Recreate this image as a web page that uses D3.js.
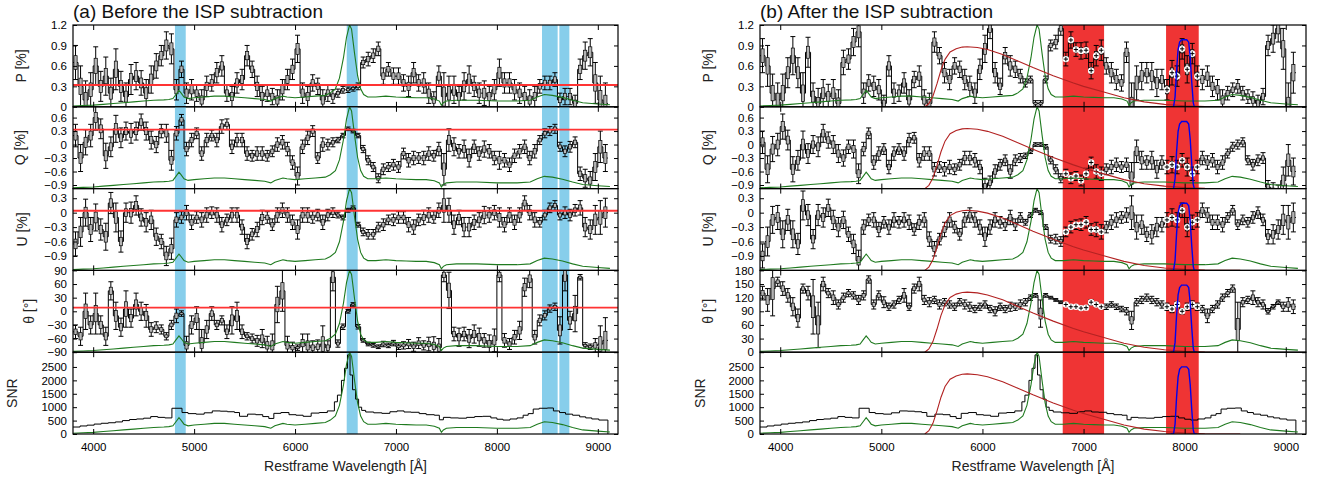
<!DOCTYPE html>
<html>
<head>
<meta charset="utf-8">
<script src="https://cdn.jsdelivr.net/npm/d3@7"></script>
<style>
  body { margin: 0; background: #fff; }
  svg { font-family: "Liberation Sans", Arial, Helvetica, sans-serif; }
</style>
</head>
<body>
<svg id="chart" width="1317" height="477"></svg>
<script>
/* Spectropolarimetry figure: P, Q, U, theta and SNR against restframe
   wavelength, before (a) and after (b) the ISP subtraction. */

// ---- data -------------------------------------------------------------
const binCenters = [
  3825,3875,3925,3975,4025,4075,4125,4175,4225,4275,
  4325,4375,4425,4475,4525,4575,4625,4675,4725,4775,
  4825,4875,4925,4975,5025,5075,5125,5175,5225,5275,
  5325,5375,5425,5475,5525,5575,5625,5675,5725,5775,
  5825,5875,5925,5975,6025,6075,6125,6175,6225,6275,
  6325,6375,6425,6475,6525,6575,6625,6675,6725,6775,
  6825,6875,6925,6975,7025,7075,7125,7175,7225,7275,
  7325,7375,7425,7475,7525,7575,7625,7675,7725,7775,
  7825,7875,7925,7975,8025,8075,8125,8175,8225,8275,
  8325,8375,8425,8475,8525,8575,8625,8675,8725,8775,
  8825,8875,8925,8975,9025,9075];
const binHalfWidth = 25;

// (a) before ISP subtraction
const pBefore = [
  0.65,0.30,0.10,0.25,0.60,0.30,0.45,0.20,0.55,0.30,
  0.15,0.40,0.45,0.35,0.20,0.40,0.60,0.75,0.90,0.85,
  0.25,0.55,0.20,0.25,0.20,0.10,0.30,0.35,0.50,0.60,
  0.20,0.15,0.35,0.40,0.75,0.55,0.30,0.15,0.20,0.15,
  0.10,0.25,0.40,0.55,0.85,0.20,0.15,0.35,0.30,0.10,
  0.20,0.15,0.20,0.25,0.25,0.27,0.30,0.65,0.70,0.75,
  0.85,0.45,0.55,0.45,0.45,0.35,0.30,0.50,0.35,0.35,
  0.20,0.10,0.45,0.15,0.20,0.25,0.15,0.30,0.40,0.30,
  0.20,0.20,0.15,0.25,0.50,0.35,0.35,0.25,0.20,0.15,
  0.10,0.15,0.30,0.35,0.35,0.40,0.10,0.15,0.15,0.05,
  0.55,0.75,0.80,0.35,0.10,0.05];
const qBefore = [
  0.20,-0.30,0.05,0.20,0.60,0.35,-0.25,-0.05,0.35,0.15,
  0.30,0.25,0.30,0.50,0.30,0.10,0.00,0.30,0.25,-0.35,
  0.25,0.55,-0.10,0.10,0.25,-0.20,0.10,0.20,0.10,0.40,
  0.45,-0.05,0.10,0.10,-0.20,-0.25,-0.20,-0.20,-0.25,-0.15,
  0.00,0.05,-0.10,-0.40,-0.70,-0.05,0.15,0.30,-0.30,0.00,
  0.00,0.05,0.10,0.20,0.35,0.30,0.20,-0.10,-0.35,-0.50,
  -0.75,-0.55,-0.50,-0.45,-0.50,-0.20,-0.35,-0.30,-0.30,-0.30,
  -0.20,-0.25,-0.10,-0.55,0.10,-0.05,-0.15,-0.10,-0.30,-0.05,
  -0.20,-0.10,-0.15,-0.30,-0.35,-0.35,-0.45,-0.25,-0.15,-0.05,
  -0.30,-0.15,0.10,0.25,0.30,0.35,-0.05,-0.15,-0.05,0.05,
  -0.65,-0.75,-0.80,-0.50,-0.05,-0.30];
const uBefore = [
  -0.65,-0.40,0.00,-0.35,-0.10,-0.35,-0.50,0.20,-0.10,-0.60,
  0.00,0.00,0.15,-0.10,-0.20,-0.15,-0.50,-0.60,-0.90,-0.75,
  -0.15,-0.10,0.00,-0.20,-0.10,-0.15,-0.05,0.00,-0.05,-0.25,
  -0.15,-0.05,-0.05,-0.30,-0.60,-0.45,-0.35,-0.10,-0.10,-0.25,
  -0.05,0.05,-0.05,-0.20,-0.35,-0.05,-0.05,-0.10,-0.05,-0.20,
  -0.05,0.00,-0.05,-0.10,0.05,0.10,-0.25,-0.40,-0.45,-0.45,
  -0.30,-0.25,-0.15,-0.15,-0.10,-0.10,-0.25,-0.30,-0.15,-0.10,
  -0.05,-0.10,0.05,0.15,0.05,-0.25,-0.10,-0.30,-0.30,-0.20,
  -0.15,-0.05,-0.05,0.00,-0.10,-0.25,-0.05,-0.20,-0.05,0.20,
  0.00,-0.15,-0.20,-0.05,0.10,0.15,-0.05,0.00,-0.05,0.05,
  0.10,-0.30,-0.35,-0.15,-0.10,0.00];
const thetaBefore = [
  -45,-55,0,-30,-5,-30,-55,45,-10,-35,
  5,-15,15,0,-10,-40,-35,-40,-55,-30,
  -10,-5,-75,-30,-15,-70,-40,-5,-30,-20,
  -45,-20,-10,-45,-55,-60,-65,-60,-75,-75,
  15,45,-75,-80,-80,-70,-75,-80,-78,-72,
  -80,75,-71,-34,0,15,-34,-64,-72,-75,
  -78,-72,-75,-70,-78,-75,-72,-78,-70,-75,
  -72,-76,-80,80,46,-50,-57,-50,-60,-50,
  -57,-64,-72,-64,80,-64,-72,-57,-42,53,
  72,-57,-20,-9,6,10,-42,80,-20,-5,
  75,-75,-78,-75,-72,-64];
const thetaErrBefore = [
  15,20,40,20,45,20,20,20,30,20,
  40,20,25,20,25,15,12,10,8,10,
  15,6,20,20,25,30,20,15,10,10,
  15,30,30,15,8,10,12,20,20,25,
  40,45,20,12,6,20,25,15,15,40,
  15,30,8,6,4,4,5,4,4,4,
  4,6,5,6,6,8,10,10,12,10,
  15,20,20,15,40,15,20,15,20,20,
  20,15,20,25,15,15,12,15,20,20,
  20,15,12,10,8,8,30,35,20,40,
  6,6,6,15,40,50];

// 1-sigma error of P, Q and U (%), same before and after the subtraction
const polErr = [
  0.25,0.30,0.28,0.25,0.28,0.22,0.28,0.22,0.30,0.22,
  0.20,0.22,0.20,0.18,0.20,0.20,0.18,0.15,0.20,0.22,
  0.15,0.12,0.15,0.15,0.12,0.15,0.15,0.12,0.15,0.15,
  0.12,0.15,0.15,0.15,0.15,0.12,0.15,0.15,0.12,0.12,
  0.15,0.15,0.15,0.15,0.20,0.15,0.15,0.12,0.12,0.15,
  0.12,0.10,0.06,0.05,0.04,0.04,0.05,0.08,0.10,0.10,
  0.10,0.12,0.10,0.12,0.12,0.12,0.15,0.15,0.12,0.15,
  0.15,0.12,0.15,0.35,0.25,0.20,0.15,0.20,0.20,0.15,
  0.15,0.18,0.15,0.15,0.20,0.15,0.15,0.15,0.15,0.15,
  0.15,0.15,0.10,0.10,0.10,0.10,0.10,0.12,0.12,0.12,
  0.15,0.20,0.20,0.30,0.35,0.30];

// (b) after ISP subtraction
const pAfter = [
  0.75,0.60,0.20,0.10,0.20,0.50,0.75,0.50,0.20,0.80,
  0.15,0.05,0.20,0.15,0.20,0.05,0.65,0.70,0.95,1.10,
  0.20,0.35,0.30,0.25,0.05,0.60,0.20,0.20,0.35,0.10,
  0.40,0.45,0.10,0.05,0.95,0.75,0.50,0.40,0.60,0.55,
  0.40,0.30,0.20,0.55,0.85,1.15,0.50,0.30,0.75,0.60,
  0.55,0.45,0.35,0.40,0.05,0.05,0.40,0.90,0.95,1.15,
  0.70,0.98,0.84,0.82,0.83,0.53,0.75,0.83,0.60,0.50,
  0.40,0.35,0.80,0.00,0.35,0.45,0.50,0.45,0.35,0.40,
  0.25,0.50,0.45,0.85,0.55,0.78,0.45,0.40,0.45,0.30,
  0.25,0.10,0.20,0.25,0.30,0.20,0.15,0.10,0.05,0.15,
  0.90,1.00,1.15,0.85,0.00,0.50];
const qAfter = [
  0.05,-0.55,-0.10,0.00,0.40,0.10,-0.55,-0.35,0.00,-0.20,
  0.00,-0.05,0.25,0.10,0.00,-0.20,-0.30,-0.05,-0.10,-0.65,
  -0.10,0.25,-0.40,-0.20,-0.10,-0.50,-0.20,-0.10,-0.20,0.10,
  0.15,-0.35,-0.20,-0.20,-0.55,-0.50,-0.55,-0.50,-0.55,-0.45,
  -0.30,-0.30,-0.35,-0.50,-0.95,-0.85,-0.60,-0.45,-0.35,-0.60,
  -0.35,-0.30,-0.25,-0.15,0.00,0.00,-0.05,-0.35,-0.55,-0.75,
  -0.65,-0.75,-0.70,-0.80,-0.65,-0.40,-0.60,-0.65,-0.55,-0.50,
  -0.45,-0.50,-0.45,-0.75,-0.15,-0.35,-0.40,-0.35,-0.55,-0.40,
  -0.50,-0.45,-0.50,-0.35,-0.50,-0.65,-0.50,-0.30,-0.40,-0.35,
  -0.50,-0.40,-0.20,-0.05,0.00,0.05,-0.35,-0.45,-0.35,-0.30,
  -0.95,-1.05,-1.10,-0.80,-0.35,-0.60];
const uAfter = [
  -0.90,-0.60,-0.15,-0.10,-0.45,-0.15,-0.45,-0.65,0.15,-0.05,
  -0.55,-0.05,-0.10,0.10,-0.15,-0.30,-0.15,-0.45,-0.65,-1.00,
  -0.30,-0.15,-0.15,-0.35,-0.20,-0.30,-0.15,-0.20,-0.15,-0.20,
  -0.35,-0.20,-0.15,-0.55,-0.75,-0.55,-0.35,-0.15,-0.30,-0.45,
  -0.15,-0.05,-0.15,-0.30,-0.50,-0.30,-0.15,-0.20,-0.25,-0.10,
  -0.25,-0.10,-0.20,-0.05,0.05,0.00,-0.30,-0.55,-0.55,-0.60,
  -0.40,-0.30,-0.25,-0.25,-0.20,-0.35,-0.35,-0.40,-0.30,-0.20,
  -0.15,-0.10,-0.05,0.00,-0.30,-0.25,-0.45,-0.45,-0.30,-0.25,
  -0.15,-0.10,-0.15,0.05,-0.30,-0.20,-0.15,0.05,-0.05,-0.20,
  -0.20,-0.25,-0.10,0.05,-0.25,-0.15,-0.20,-0.10,0.00,-0.15,
  -0.50,-0.45,-0.35,-0.15,-0.20,-0.10];
const thetaAfter = [
  130,115,140,155,140,125,100,75,140,130,
  100,60,150,130,120,105,120,130,125,115,
  125,160,105,125,110,100,105,115,125,100,
  140,150,115,110,115,105,110,105,100,110,
  105,100,95,100,105,95,90,100,95,100,
  100,105,110,120,125,85,125,120,115,110,
  105,100,100,97,98,110,105,100,100,105,
  100,95,90,70,110,115,120,115,110,105,
  100,95,105,90,100,105,100,95,80,95,
  105,120,130,140,50,110,115,120,110,105,
  90,100,110,100,105,100];
const thetaErrAfter = [
  15,25,60,10,15,15,20,20,10,15,
  60,50,15,10,15,10,10,8,8,10,
  10,8,10,10,12,8,8,8,15,8,
  10,15,10,10,8,10,8,8,8,8,
  10,10,8,8,8,8,10,8,8,10,
  8,10,8,6,4,30,4,3,3,3,
  4,4,4,4,4,6,5,5,6,6,
  6,6,8,20,8,8,8,8,8,8,
  8,8,6,6,8,8,8,8,15,8,
  8,8,8,8,60,10,8,15,10,10,
  6,5,5,10,15,15];

// signal-to-noise, step histogram (bin edges + values)
const snrEdges = [
  3800,3870,3940,4010,4080,4150,4220,4290,4360,4430,
  4500,4570,4640,4710,4780,4880,4940,5020,5100,5180,
  5260,5330,5400,5450,5530,5610,5680,5740,5790,5860,
  5940,6010,6080,6160,6240,6320,6390,6420,6460,6490,
  6520,6545,6570,6600,6630,6660,6700,6780,6860,6940,
  7010,7080,7150,7230,7300,7380,7430,7470,7540,7620,
  7700,7780,7860,7940,8000,8060,8130,8200,8260,8310,
  8360,8420,8500,8560,8620,8680,8750,8820,8880,8940,
  9010,9100];
const snrValues = [
  260,300,330,370,400,420,450,500,540,560,
  590,650,620,600,960,800,760,740,790,860,
  850,830,800,660,740,720,650,580,770,800,
  720,700,660,780,800,860,1200,1450,2000,2450,
  2950,2200,1650,1300,1000,880,820,790,770,830,
  860,820,810,760,720,700,530,620,600,590,
  620,650,660,600,550,520,560,600,700,760,
  930,960,970,860,800,740,700,640,600,560,
  520];

// flux spectrum, normalised to the panel height
const fluxWave = [3800,3900,4000,4100,4200,4300,4400,4500,4600,4700,4750,4790,4820,4850,4870,4900,4940,
  5000,5100,5200,5300,5400,5500,5600,5700,5760,5800,5880,5920,6000,6100,6200,6300,6350,6400,6440,
  6480,6510,6540,6560,6590,6620,6650,6680,6720,6800,6900,7000,7100,7200,7300,7380,7430,7450,7470,
  7500,7600,7800,8000,8200,8330,8400,8470,8550,8650,8750,8850,9000,9120];
const fluxNorm = [0.01,0.015,0.02,0.03,0.04,0.05,0.06,0.07,0.08,0.085,0.09,0.1,0.15,0.2,0.17,0.12,0.1,
  0.11,0.12,0.13,0.13,0.12,0.11,0.1,0.09,0.07,0.1,0.13,0.12,0.11,0.12,0.13,0.14,0.17,0.22,0.35,
  0.6,0.85,1.0,0.95,0.65,0.38,0.22,0.15,0.12,0.12,0.13,0.12,0.115,0.11,0.11,0.095,0.07,0.02,0.05,
  0.07,0.08,0.08,0.07,0.07,0.08,0.12,0.15,0.14,0.115,0.08,0.05,0.035,0.025];

// broad (dark red) and narrow (blue) filter curves in panel (b)
const broadWave = [5430,5470,5510,5550,5590,5630,5680,5740,5800,5850,5950,6050,6200,6350,6500,6700,
  6900,7000,7200,7400,7600,7800,8000,8200,8550];
const broadNorm = [0,0.04,0.13,0.28,0.45,0.58,0.67,0.71,0.73,0.735,0.725,0.7,0.64,0.56,0.48,0.38,
  0.29,0.25,0.18,0.11,0.06,0.03,0.012,0.003,0];
const narrowWave = [7860,7890,7905,7920,7935,7950,7970,8020,8040,8055,8070,8085,8095,8120];
const narrowNorm = [0,0,0.12,0.45,0.7,0.79,0.82,0.82,0.79,0.6,0.3,0.05,0,0];

// shaded wavelength ranges
const blueBands = [[4810, 4917], [6512, 6621], [8447, 8602], [8619, 8718]];
const redBands = [[6794, 7203], [7816, 8139]];

// ISP values drawn in panel (a): P, Q, U (%), theta (deg)
const ispValues = [0.32, 0.33, 0.04, 8];

const xTicks = [4000, 5000, 6000, 7000, 8000, 9000];

// ---- layout -----------------------------------------------------------
const PANEL_TOP = 25;
const PANEL_H = 81.8;
const colors = {
  step: '#000',
  box: '#b4b4b4',
  flux: '#1f7a1f',
  isp: '#ff3333',
  broad: '#b22222',
  narrow: '#0000ee',
  blueBand: '#87ceeb',
  redBand: '#ef3434'
};

const polFmt = v => v === 0 ? '0' : d3.format('.1f')(v).replace('-', '\u2212');
const intFmt = v => String(v).replace('-', '\u2212');

function makeRows(side) {
  return [
    {label: 'P [%]', domain: [0, 1.2], ticks: [0, 0.3, 0.6, 0.9, 1.2], fmt: polFmt,
     values: side.p, errors: polErr, isp: ispValues[0], labelOffset: side.labelOffsets[0]},
    {label: 'Q [%]', domain: [-0.98, 0.84], ticks: [-0.9, -0.6, -0.3, 0, 0.3, 0.6], fmt: polFmt,
     values: side.q, errors: polErr, isp: ispValues[1], labelOffset: side.labelOffsets[1]},
    {label: 'U [%]', domain: [-1.2, 0.5], ticks: [-0.9, -0.6, -0.3, 0, 0.3], fmt: polFmt,
     values: side.u, errors: polErr, isp: ispValues[2], labelOffset: side.labelOffsets[2]},
    {label: '\u03b8 [\u00b0]', domain: side.thetaDomain, ticks: side.thetaTicks, fmt: intFmt,
     values: side.theta, errors: side.thetaErr, isp: ispValues[3], labelOffset: side.labelOffsets[3]},
    {label: 'SNR', domain: [0, 3050], ticks: [0, 500, 1000, 1500, 2000, 2500], fmt: intFmt,
     snr: true, labelOffset: side.labelOffsets[4]}
  ];
}

const sides = [
  {x0: 73, x1: 618, title: '(a) Before the ISP subtraction',
   p: pBefore, q: qBefore, u: uBefore, theta: thetaBefore, thetaErr: thetaErrBefore,
   thetaDomain: [-90, 90], thetaTicks: [-90, -60, -30, 0, 30, 60, 90],
   bands: blueBands, bandColor: colors.blueBand, showIsp: true, filters: false,
   labelOffsets: [52, 53, 51, 44, 61]},
  {x0: 760, x1: 1306, title: '(b) After the ISP subtraction',
   p: pAfter, q: qAfter, u: uAfter, theta: thetaAfter, thetaErr: thetaErrAfter,
   thetaDomain: [0, 180], thetaTicks: [0, 30, 60, 90, 120, 150, 180],
   bands: redBands, bandColor: colors.redBand, showIsp: false, filters: true,
   labelOffsets: [52, 52, 52, 52, 60]}
];

const svg = d3.select('#chart');
const defs = svg.append('defs');

function inBand(w, bands) {
  return bands.some(b => w >= b[0] && w <= b[1]);
}

function drawPanel(side, sideIndex, row, r, x) {
  const top = PANEL_TOP + r * PANEL_H, bottom = top + PANEL_H;
  const y = d3.scaleLinear().domain(row.domain).range([bottom, top]);
  const yf = d3.scaleLinear().domain([0, 1]).range([bottom, top]);
  const clipId = `clip-${sideIndex}-${r}`;
  defs.append('clipPath').attr('id', clipId).append('rect')
    .attr('x', side.x0).attr('y', top)
    .attr('width', side.x1 - side.x0).attr('height', PANEL_H);

  const g = svg.append('g');
  const plot = g.append('g').attr('clip-path', `url(#${clipId})`);

  // shaded bands
  plot.selectAll('rect.band').data(side.bands).join('rect')
    .attr('class', 'band')
    .attr('x', d => x(d[0])).attr('width', d => x(d[1]) - x(d[0]))
    .attr('y', top).attr('height', PANEL_H)
    .attr('fill', side.bandColor);

  const line = d3.line().x(d => x(d[0])).y(d => y(d[1]));

  if (row.snr) {
    const pts = [];
    snrValues.forEach((v, i) => { pts.push([snrEdges[i], v], [snrEdges[i + 1], v]); });
    pts.push([snrEdges[snrEdges.length - 1], 0]);
    plot.append('path').attr('d', line(pts))
      .attr('fill', 'none').attr('stroke', colors.step).attr('stroke-width', 1);
  } else {
    const pts = binCenters.flatMap((c, i) => [[c - binHalfWidth, row.values[i]], [c + binHalfWidth, row.values[i]]]);
    plot.append('path').attr('d', line(pts))
      .attr('fill', 'none').attr('stroke', colors.step).attr('stroke-width', 1);

    const bars = plot.append('g').attr('stroke', '#000').attr('stroke-width', 1);
    binCenters.forEach((c, i) => {
      const v = row.values[i], e = row.errors[i], cx = x(c);
      bars.append('line').attr('x1', cx).attr('x2', cx).attr('y1', y(v - e)).attr('y2', y(v + e));
      bars.append('line').attr('x1', cx - 2.5).attr('x2', cx + 2.5).attr('y1', y(v + e)).attr('y2', y(v + e));
      bars.append('line').attr('x1', cx - 2.5).attr('x2', cx + 2.5).attr('y1', y(v - e)).attr('y2', y(v - e));
    });
    plot.append('g').selectAll('rect').data(binCenters).join('rect')
      .attr('x', c => x(c) - 1.6).attr('width', 3.2)
      .attr('y', (c, i) => y(row.values[i] + 0.4 * row.errors[i]))
      .attr('height', (c, i) => y(row.values[i] - 0.4 * row.errors[i]) - y(row.values[i] + 0.4 * row.errors[i]))
      .attr('fill', colors.box).attr('stroke', '#000').attr('stroke-width', 0.7);

    if (side.filters) {
      const marked = binCenters.map((c, i) => [c, row.values[i]]).filter(d => inBand(d[0], redBands));
      const mk = plot.append('g').selectAll('g').data(marked).join('g')
        .attr('transform', d => `translate(${x(d[0])},${y(d[1])})`);
      mk.append('circle').attr('r', 3.2).attr('fill', '#fff');
      mk.append('path').attr('d', 'M-2.2,0H2.2M0,-2.2V2.2').attr('stroke', '#000').attr('stroke-width', 1);
    }
  }

  // flux spectrum
  const fline = d3.line().x(d => x(d[0])).y(d => yf(d[1]));
  plot.append('path').attr('d', fline(fluxWave.map((w, i) => [w, fluxNorm[i]])))
    .attr('fill', 'none').attr('stroke', colors.flux).attr('stroke-width', 1.1);

  if (side.filters) {
    plot.append('path').attr('d', fline(broadWave.map((w, i) => [w, broadNorm[i]])))
      .attr('fill', 'none').attr('stroke', colors.broad).attr('stroke-width', 1.1);
    plot.append('path').attr('d', fline(narrowWave.map((w, i) => [w, narrowNorm[i]])))
      .attr('fill', 'none').attr('stroke', colors.narrow).attr('stroke-width', 1.4);
  }

  if (side.showIsp && !row.snr) {
    plot.append('line').attr('x1', side.x0).attr('x2', side.x1)
      .attr('y1', y(row.isp)).attr('y2', y(row.isp))
      .attr('stroke', colors.isp).attr('stroke-width', 1.8);
  }

  // axes with inward ticks on all four sides
  const noLabel = () => '';
  const tidy = a => a.call(s => s.select('.domain').remove())
    .attr('font-family', null).attr('font-size', 11.5).attr('fill', '#222');
  g.append('g').attr('transform', `translate(0,${bottom})`)
    .call(d3.axisBottom(x).tickValues(xTicks).tickSize(-5).tickPadding(9)
      .tickFormat(row.snr ? d3.format('d') : noLabel))
    .call(tidy);
  g.append('g').attr('transform', `translate(0,${top})`)
    .call(d3.axisTop(x).tickValues(xTicks).tickSize(-5).tickFormat(noLabel)).call(tidy);
  g.append('g').attr('transform', `translate(${side.x0},0)`)
    .call(d3.axisLeft(y).tickValues(row.ticks).tickSize(-4).tickPadding(6).tickFormat(row.fmt))
    .call(tidy);
  g.append('g').attr('transform', `translate(${side.x1},0)`)
    .call(d3.axisRight(y).tickValues(row.ticks).tickSize(-4).tickFormat(noLabel)).call(tidy);

  g.append('rect').attr('x', side.x0).attr('y', top)
    .attr('width', side.x1 - side.x0).attr('height', PANEL_H)
    .attr('fill', 'none').attr('stroke', '#000').attr('stroke-width', 1.2);

  g.append('text')
    .attr('transform', `translate(${side.x0 - row.labelOffset},${(top + bottom) / 2}) rotate(-90)`)
    .attr('text-anchor', 'middle').attr('dy', '0.35em')
    .attr('font-size', 14).attr('fill', '#222')
    .text(row.label);
}

sides.forEach((side, sideIndex) => {
  const x = d3.scaleLinear().domain([3800, 9200]).range([side.x0, side.x1]);
  makeRows(side).forEach((row, r) => drawPanel(side, sideIndex, row, r, x));

  svg.append('text').attr('x', side.x0).attr('y', 18)
    .attr('font-size', 19).attr('fill', '#111').text(side.title);
  svg.append('text').attr('x', (side.x0 + side.x1) / 2).attr('y', 471)
    .attr('text-anchor', 'middle').attr('font-size', 14).attr('fill', '#222')
    .text('Restframe Wavelength [\u00c5]');
});
</script>
</body>
</html>
